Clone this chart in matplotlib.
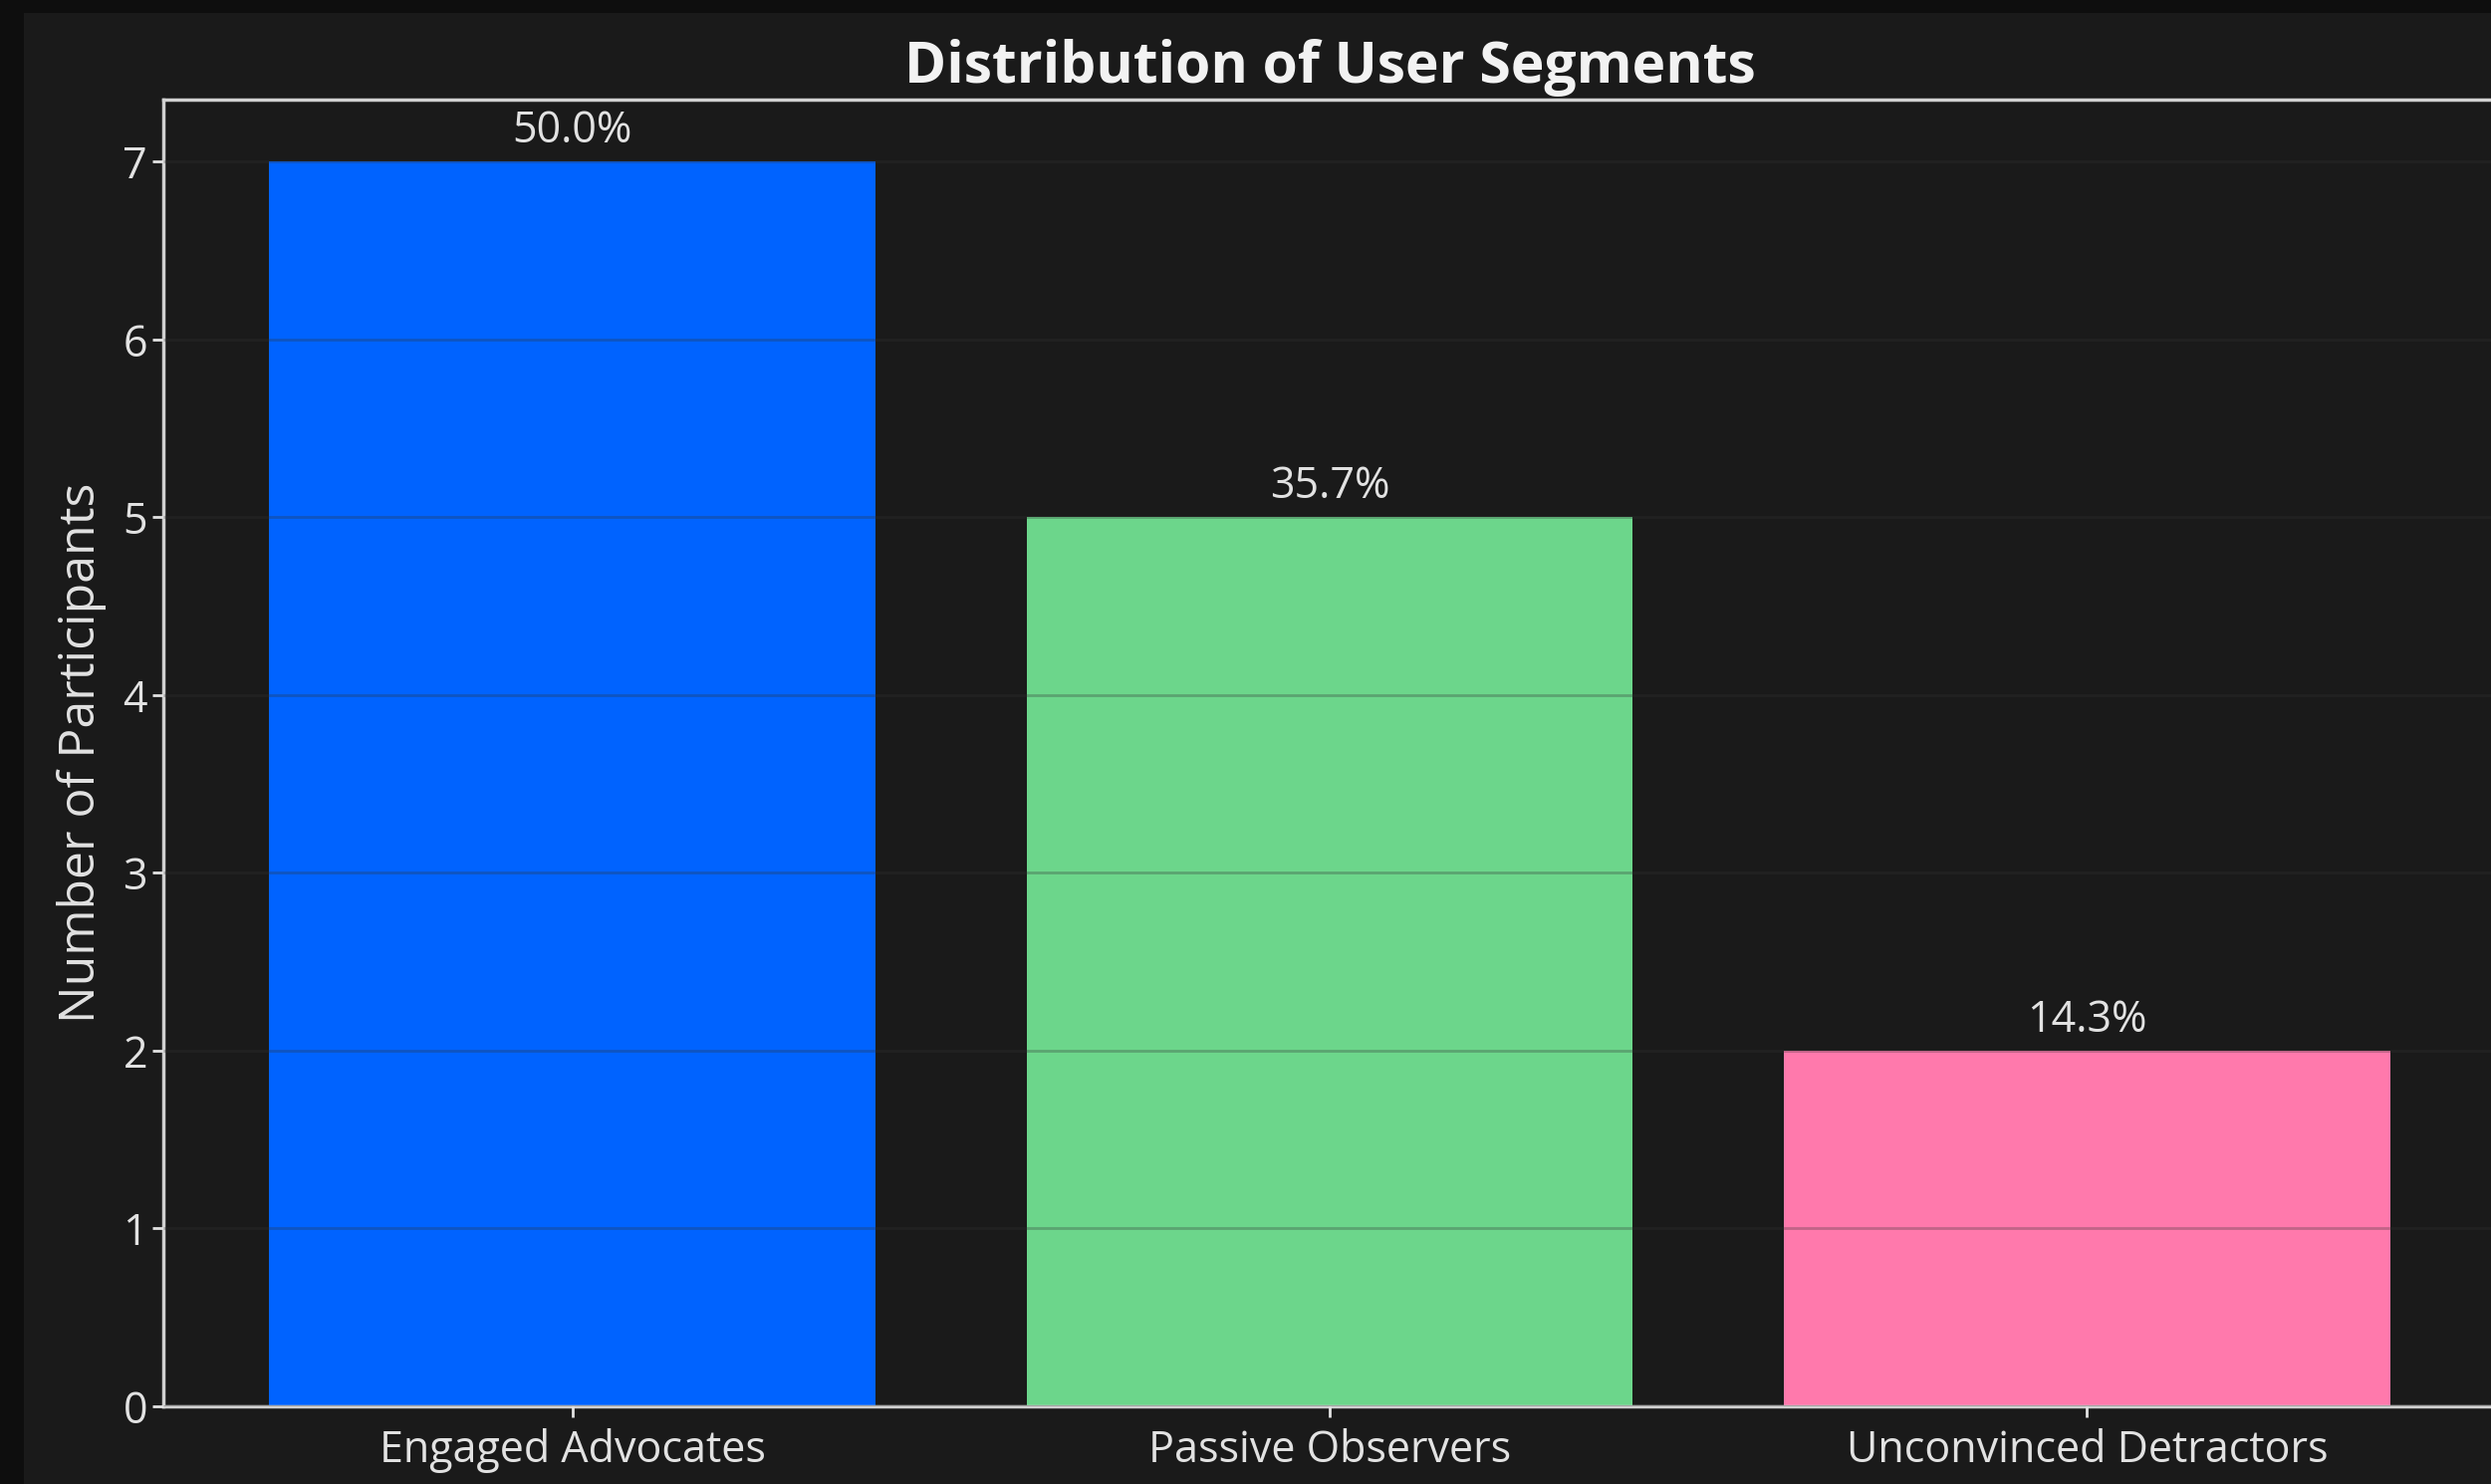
import matplotlib.pyplot as plt
from matplotlib.patches import Rectangle

segments = ['Engaged Advocates', 'Passive Observers', 'Unconvinced Detractors']
counts = [7, 5, 2]
colors = ['#0063ff', '#6cd68b', '#ff79ac']

plt.rcParams['font.family'] = ['Open Sans', 'Noto Sans', 'DejaVu Sans']
text_col = '#e2e2e2'

fig = plt.figure(figsize=(25.01, 14.90), dpi=100, facecolor='#0e0e0e')
# inner panel background
fig.patches.append(Rectangle((24 / 2501, 0), 1, 1 - 13 / 1490, transform=fig.transFigure,
                             facecolor='#1a1a1a', edgecolor='none', zorder=-10))

ax = fig.add_axes([164 / 2501, 78 / 1490, (2506 - 164) / 2501, (1412 - 100) / 1490])
ax.set_facecolor('#1a1a1a')

bars = ax.bar(segments, counts, width=0.8, color=colors, zorder=2)
ax.set_ylim(0, max(counts) * 1.05)

total = sum(counts)
for b, c in zip(bars, counts):
    ax.annotate('{:.1f}%'.format(100 * c / total), (b.get_x() + b.get_width() / 2, c),
                xytext=(0, 6), textcoords='offset points', ha='center', va='bottom',
                fontsize=31, color=text_col)

ax.yaxis.grid(True, color='#333333', alpha=0.3, linewidth=2, zorder=3)
ax.set_axisbelow(False)

ax.set_title('Distribution of User Segments', fontsize=41, fontweight='bold',
             color='#f2f2f2', pad=12)
ax.set_ylabel('Number of Participants', fontsize=36, color=text_col, labelpad=12)
ax.tick_params(axis='both', labelsize=31, colors=text_col, length=8, width=2)
ax.tick_params(axis='x', pad=8)
for s in ax.spines.values():
    s.set_color('#d0d0d0')
    s.set_linewidth(2.5)

fig.savefig('out.png', dpi=100, facecolor=fig.get_facecolor())
